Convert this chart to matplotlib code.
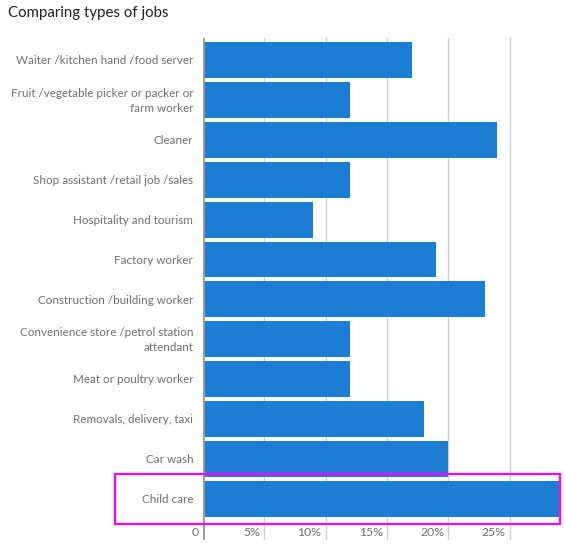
import numpy as np
import matplotlib
matplotlib.use("Agg")
import matplotlib.pyplot as plt
from matplotlib.patches import Rectangle
import matplotlib.transforms as mtransforms

plt.rcParams['font.family'] = ['Lato', 'DejaVu Sans']

jobs = [
    "Waiter /kitchen hand /food server",
    "Fruit /vegetable picker or packer or\nfarm worker",
    "Cleaner",
    "Shop assistant /retail job /sales",
    "Hospitality and tourism",
    "Factory worker",
    "Construction /building worker",
    "Convenience store /petrol station\nattendant",
    "Meat or poultry worker",
    "Removals, delivery, taxi",
    "Car wash",
    "Child care",
]
shares = [17, 12, 24, 12, 9, 19, 23, 12, 12, 18, 20, 29]
xticks = [0, 5, 10, 15, 20, 25]
xtick_labels = ["0", "5%", "10%", "15%", "20%", "25%"]
highlight = "Child care"

W, H = 565, 545
fig = plt.figure(figsize=(W / 100, H / 100), dpi=100)
ax = fig.add_axes([203 / W, 1 - 540 / H, 357 / W, 502 / H])

y = np.arange(len(jobs))
ax.barh(y, shares, height=0.9, color="#1b7ed3", zorder=3)

for v in xticks[1:]:
    ax.axvline(v, color="#cfcfcf", lw=1, zorder=1)
ax.axvline(0, color="#9a9a9a", lw=2, zorder=4)

ax.set_xlim(0, 29.1)
ax.set_ylim(12.03, -0.55)
ax.set_xticks([])
ax.set_yticks([])
for s in ax.spines.values():
    s.set_visible(False)

for i, lab in enumerate(jobs):
    ax.text(-0.8, i + 0.02, lab, ha="right", va="center", fontsize=8.4,
            color="#707070", linespacing=1.45)

for v, lab in zip(xticks, xtick_labels):
    ax.text(v - 0.35, 11.83, lab, ha="right", va="center", fontsize=8.8,
            color="#707070")

# highlight box around the selected row
k = jobs.index(highlight)
trans = mtransforms.blended_transform_factory(ax.transAxes, ax.transData)
ax.add_patch(Rectangle((-0.246, k + 0.63), 1.246, -1.26, transform=trans,
                       fill=False, edgecolor="#ff00ff", lw=1.6,
                       clip_on=False, zorder=5))

fig.text(8 / W, 1 - 13 / H, "Comparing types of jobs", ha="left",
         va="center", fontsize=10.8, color="#222222")

fig.savefig("out.png", dpi=100)
